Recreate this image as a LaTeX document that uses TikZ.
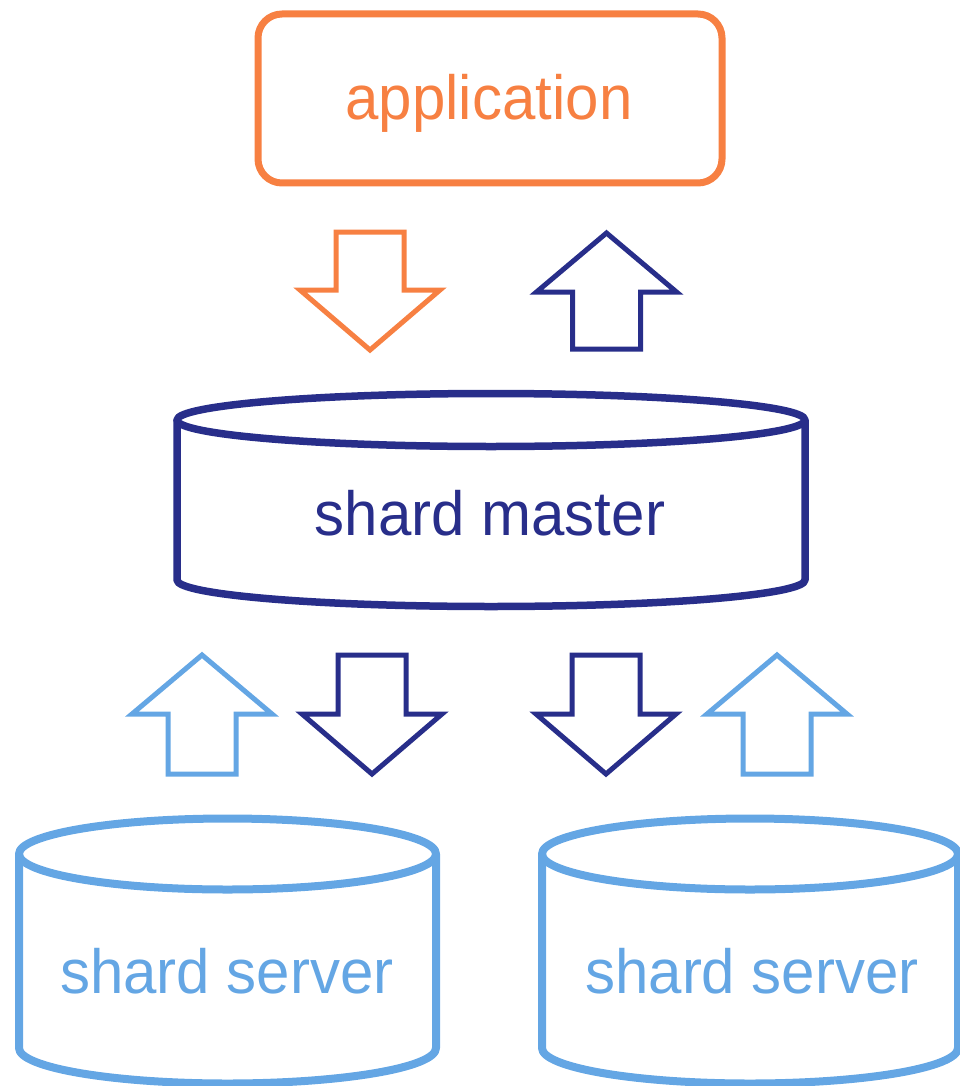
\documentclass[tikz,border=0pt]{standalone}
\usepackage{fontspec}
\setmainfont{Liberation Sans}
\definecolor{apporange}{RGB}{247,128,66}
\definecolor{mastnavy}{RGB}{40,46,138}
\definecolor{servblue}{RGB}{100,166,228}

% hollow block arrows: colour, centre x, start y (flat end), head y, tip y
\newcommand{\blockarrow}[5]{%
  \draw[blockline,#1] (#2-34,#3) -- (#2+34,#3) -- (#2+34,#4) -- (#2+70,#4)
    -- (#2,#5) -- (#2-70,#4) -- (#2-34,#4) -- cycle;}

% cylinder: style, centre x, half width, top y, bottom y, ellipse half height
\newcommand{\drumshape}[6]{%
  \draw[#1] (#2,#4) ellipse [x radius=#3, y radius=#6];
  \draw[#1] (#2-#3,#4) -- (#2-#3,#5)
    arc [start angle=180, end angle=0, x radius=#3, y radius=#6] -- (#2+#3,#4);}

\begin{document}
\begin{tikzpicture}[x=1pt,y=-1pt,
  blockline/.style={line width=5pt, line join=miter, miter limit=20},
  label/.style={anchor=base, inner sep=0pt, font=\fontsize{60}{72}\selectfont, yscale=1.04}]
\useasboundingbox (0,0) rectangle (959,1086);

% application box
\draw[apporange, line width=7pt, rounded corners=24pt] (258,14) rectangle (722,183);
\node[label, text=apporange] (app) at (489,120) {application};

% arrows between application and shard master
\blockarrow{apporange}{370}{232}{290}{350}
\blockarrow{mastnavy}{606.5}{349}{292}{233}

% shard master
\drumshape{mastnavy, line width=7.5pt, line join=round}{491}{314}{420}{580}{26.5}
\node[label, text=mastnavy] (master) at (490,535) {shard master};

% arrows between shard master and shard servers
\blockarrow{servblue}{202}{774}{714}{655}
\blockarrow{mastnavy}{372}{655}{714}{774}
\blockarrow{mastnavy}{606}{655}{714}{774}
\blockarrow{servblue}{777}{774}{714}{655}

% shard servers
\drumshape{servblue, line width=8pt, line join=round}{227.5}{208.5}{854}{1048}{35.5}
\drumshape{servblue, line width=8pt, line join=round}{750}{208}{854}{1048}{35.5}
\node[label, text=servblue] (serverA) at (227,993) {shard server};
\node[label, text=servblue] (serverB) at (752,993) {shard server};
\end{tikzpicture}
\end{document}
